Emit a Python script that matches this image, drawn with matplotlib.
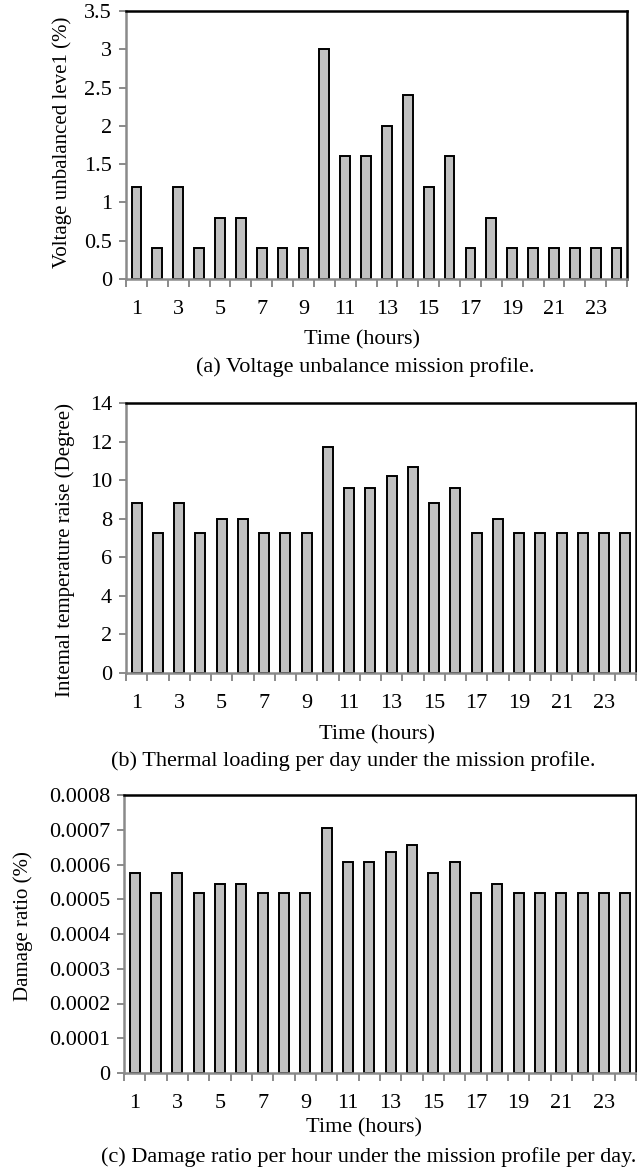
import matplotlib.pyplot as plt
import numpy as np

plt.rcParams['font.family'] = ['Liberation Serif', 'DejaVu Serif']
plt.rcParams['font.size'] = 16

hours = list(range(1, 25))

# voltage unbalance mission profile (%)
unbalance = [1.2, 0.4, 1.2, 0.4, 0.8, 0.8, 0.4, 0.4, 0.4, 3.0, 1.6, 1.6,
             2.0, 2.4, 1.2, 1.6, 0.4, 0.8, 0.4, 0.4, 0.4, 0.4, 0.4, 0.4]

# internal temperature raise (degree)
temp_rise = [8.8, 7.25, 8.8, 7.25, 8.0, 8.0, 7.25, 7.25, 7.25, 11.7, 9.6, 9.6,
             10.2, 10.7, 8.8, 9.6, 7.25, 8.0, 7.25, 7.25, 7.25, 7.25, 7.25, 7.25]

# damage ratio per hour (%)
damage = [0.000575, 0.000517, 0.000575, 0.000517, 0.000543, 0.000543,
          0.000517, 0.000517, 0.000517, 0.000704, 0.000607, 0.000607,
          0.000636, 0.000656, 0.000575, 0.000607, 0.000517, 0.000543,
          0.000517, 0.000517, 0.000517, 0.000517, 0.000517, 0.000517]

yticks_a = [0, 0.5, 1, 1.5, 2, 2.5, 3, 3.5]
ylabels_a = ['0', '0.5', '1', '1.5', '2', '2.5', '3', '3.5']
yticks_b = [0, 2, 4, 6, 8, 10, 12, 14]
ylabels_b = ['0', '2', '4', '6', '8', '10', '12', '14']
yticks_c = [0, 0.0001, 0.0002, 0.0003, 0.0004, 0.0005, 0.0006, 0.0007, 0.0008]
ylabels_c = ['0', '0.0001', '0.0002', '0.0003', '0.0004', '0.0005', '0.0006',
             '0.0007', '0.0008']

W, H = 637, 1171
fig = plt.figure(figsize=(W / 100, H / 100), dpi=100)

GRAY = '#8a8a8a'


def px_axes(left, top, right, bottom):
    return fig.add_axes([left / W, 1 - bottom / H, (right - left) / W, (bottom - top) / H])


def px_text(x, y, s, **kw):
    fig.text(x / W, 1 - y / H, s, ha='center', va='center', **kw)


def bar_panel(ax, values, yticks, ylabels, ylabel):
    ax.bar(hours, values, width=0.47, color='#c0c0c0', edgecolor='black', linewidth=1.4)
    ax.set_xlim(0.5, 24.5)
    ax.set_ylim(yticks[0], yticks[-1])
    ax.set_yticks(yticks)
    ax.set_yticklabels(ylabels)
    # category boundaries carry the tick marks, odd hours carry the labels
    ax.set_xticks(np.arange(0.5, 25, 1))
    ax.set_xticklabels([])
    ax.set_xticks(hours[::2], minor=True)
    ax.set_xticklabels([str(h) for h in hours[::2]], minor=True)
    ax.tick_params(axis='x', which='major', direction='out', length=6, width=1.4, color=GRAY)
    ax.tick_params(axis='x', which='minor', length=0, pad=15)
    ax.tick_params(axis='y', direction='out', length=5, width=1.4, color=GRAY, pad=5)
    for side in ('left', 'bottom'):
        ax.spines[side].set_color(GRAY)
        ax.spines[side].set_linewidth(1.8)
    for side in ('top', 'right'):
        ax.spines[side].set_color('black')
        ax.spines[side].set_linewidth(1.8)
    ax.set_ylabel(ylabel, fontsize=15)


ax1 = px_axes(126, 11, 627, 279)
bar_panel(ax1, unbalance, yticks_a, ylabels_a, 'Voltage unbalanced leve1 (%)')
ax1.yaxis.set_label_coords(-(126 - 72) / 501, 0.51)
px_text(362, 340, 'Time (hours)')
px_text(365, 367, '(a) Voltage unbalance mission profile.')

ax2 = px_axes(126, 403, 636, 673)
bar_panel(ax2, temp_rise, yticks_b, ylabels_b, 'Intemal temperature raise (Degree)')
ax2.yaxis.set_label_coords(-(126 - 75) / 510, 0.455)
px_text(377, 735, 'Time (hours)')
px_text(353, 761, '(b) Thermal loading per day under the mission profile.')

ax3 = px_axes(124, 795, 636, 1073)
bar_panel(ax3, damage, yticks_c, ylabels_c, 'Damage ratio (%)')
ax3.yaxis.set_label_coords(-(124 - 33) / 512, 0.53)
px_text(364, 1128, 'Time (hours)')
px_text(369, 1157, '(c) Damage ratio per hour under the mission profile per day.')

fig.savefig('out.png', dpi=100)
